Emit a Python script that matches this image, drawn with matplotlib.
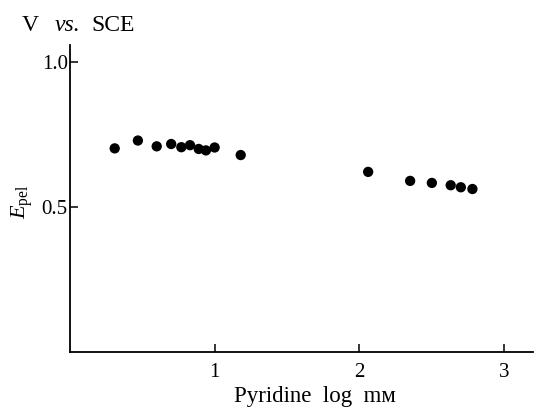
import matplotlib
matplotlib.use('Agg')
import matplotlib.pyplot as plt

# log concentration of pyridine (mM) and E_pel (V vs. SCE)
log_conc = [0.31, 0.47, 0.60, 0.70, 0.77, 0.83, 0.89, 0.94, 1.00, 1.18,
            2.06, 2.35, 2.50, 2.63, 2.70, 2.78]
e_pel = [0.701, 0.728, 0.708, 0.716, 0.705, 0.712, 0.699, 0.694, 0.704, 0.678,
         0.620, 0.589, 0.582, 0.574, 0.567, 0.561]
x_ticks = [1, 2, 3]
y_ticks = [0.5, 1.0]

plt.rcParams['font.family'] = ['Liberation Serif', 'DejaVu Serif']
plt.rcParams['mathtext.fontset'] = 'custom'
plt.rcParams['mathtext.rm'] = 'Liberation Serif'
plt.rcParams['mathtext.it'] = 'Liberation Serif:italic'

fig = plt.figure(figsize=(5.37, 4.13), dpi=100)
ax = fig.add_axes([0.130, 0.148, 0.863, 0.743])

ax.scatter(log_conc, e_pel, s=55, color='black', edgecolors='none', zorder=3)

ax.set_xlim(0, 3.2)
ax.set_ylim(0, 1.057)
ax.set_xticks(x_ticks)
ax.set_xticklabels([str(t) for t in x_ticks])
ax.set_yticks(y_ticks)
ax.set_yticklabels(['0.5', '1.0'])

for side in ['top', 'right']:
    ax.spines[side].set_visible(False)
for side in ['left', 'bottom']:
    ax.spines[side].set_linewidth(1.3)

ax.tick_params(axis='x', direction='in', length=6, width=1.1, pad=8, labelsize=15)
ax.tick_params(axis='y', direction='in', length=6, width=1.1, pad=1.5, labelsize=15)

ax.set_xlabel('Pyridine  log  m\u1d0d', fontsize=16.5)
ax.xaxis.set_label_coords(0.528, -0.11)
ax.set_ylabel(r'$E_{\mathrm{pel}}$', fontsize=16, labelpad=2)
ax.yaxis.set_label_coords(-0.075, 0.49)

fig.text(0.04, 0.925, 'V', fontsize=17)
fig.text(0.101, 0.925, 'vs.', fontsize=17, style='italic')
fig.text(0.170, 0.925, 'SCE', fontsize=17)

plt.savefig('out.png', dpi=100)
plt.close()
